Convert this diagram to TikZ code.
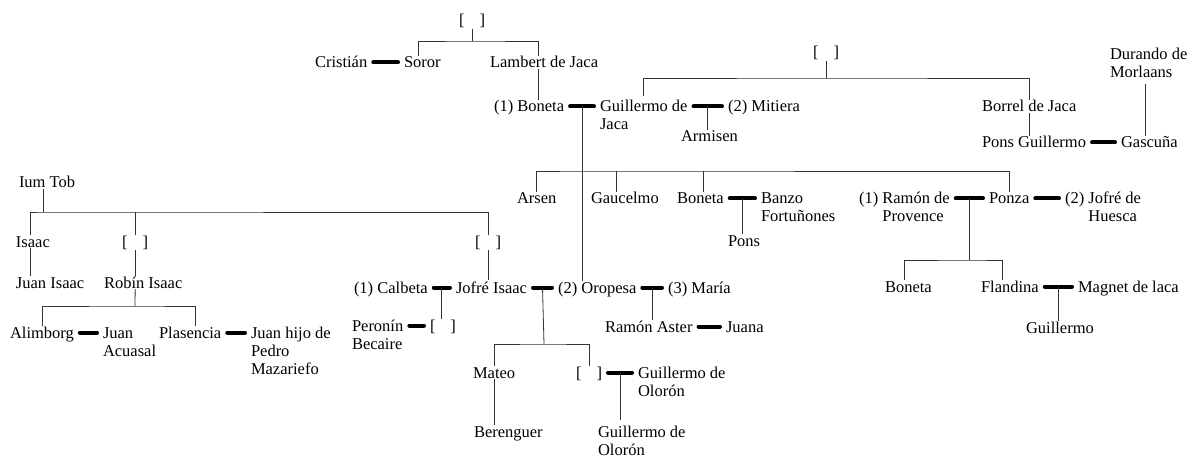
\documentclass[tikz,border=0pt]{standalone}
\usepackage{fontspec}
\setmainfont{Liberation Serif}
\usetikzlibrary{calc}

\newcommand{\unk}{[\hspace{15pt}]}
\newcommand{\stack}[1]{\begin{tabular}[t]{@{}l@{}}#1\end{tabular}}

\begin{document}
\begin{tikzpicture}[
          x=1pt, y=-1pt,
          person/.style = {inner sep=0pt, outer sep=1pt, anchor=base west, font=\fontsize{16.5}{18}\selectfont},
          unknown/.style = {person, anchor=base},
          line/.style = {draw=black!80, line width=0.8pt},
          bond/.style = {line width=4pt, line cap=round, shorten <=5pt, shorten >=5pt}
        ]
        \useasboundingbox (0,0) rectangle (1196,457);

        \node[unknown] (top1) at (472,26) {\unk};
        \node[person] (cristian) at (314,68) {Cristián};
        \node[person] (soror) at (403,68) {Soror};
        \node[person] (lambert) at (489,68) {Lambert de Jaca};
        \node[person] (boneta1) at (493,112) {(1) Boneta};
        \node[person] (guillermo) at (599,112) {\stack{Guillermo de\\Jaca}};
        \node[person] (mitiera) at (727,112) {(2) Mitiera};
        \node[person] (armisen) at (680,142) {Armisen};
        \node[unknown] (top2) at (826,58) {\unk};
        \node[person] (borrel) at (981,112) {Borrel de Jaca};
        \node[person] (ponsg) at (981,148) {Pons Guillermo};
        \node[person] (gascuna) at (1120,148) {Gascuña};
        \node[person] (durando) at (1109,60) {\stack{Durando de\\Morlaans}};

        \node[person] (arsen) at (516,204) {Arsen};
        \node[person] (gaucelmo) at (590,204) {Gaucelmo};
        \node[person] (boneta2) at (676,204) {Boneta};
        \node[person] (banzo) at (760,204) {\stack{Banzo\\Fortuñones}};
        \node[person] (pons) at (727,246) {Pons};
        \node[person] (ramon) at (858,204) {\stack{(1) Ramón de\\\phantom{(1) }Provence}};
        \node[person] (ponza) at (988,204) {Ponza};
        \node[person] (jofre) at (1064,204) {\stack{(2) Jofré de\\\phantom{(2) }Huesca}};
        \node[person] (boneta3) at (884,292) {Boneta};
        \node[person] (flandina) at (980,292) {Flandina};
        \node[person] (magnet) at (1077,292) {Magnet de laca};
        \node[person] (guillermo2) at (1025,333) {Guillermo};

        \node[person] (iumtob) at (18,188) {Ium Tob};
        \node[person] (isaac) at (15,247) {Isaac};
        \node[unknown] (top3) at (135,247) {\unk};
        \node[person] (juanisaac) at (15,288) {Juan Isaac};
        \node[person] (robin) at (103,288) {Robín Isaac};
        \node[person] (alimborg) at (9,338) {Alimborg};
        \node[person] (acuasal) at (102,338) {\stack{Juan\\Acuasal}};
        \node[person] (plasencia) at (158,338) {Plasencia};
        \node[person] (juanhijo) at (250,338) {\stack{Juan hijo de\\Pedro\\Mazariefo}};

        \node[unknown] (top4) at (488,247) {\unk};
        \node[person] (calbeta) at (353,293) {(1) Calbeta};
        \node[person] (jofreisaac) at (455,293) {Jofré Isaac};
        \node[person] (oropesa) at (557,293) {(2) Oropesa};
        \node[person] (maria) at (667,293) {(3) María};
        \node[person] (aster) at (604,332) {Ramón Aster};
        \node[person] (juana) at (725,332) {Juana};
        \node[person] (peronin) at (351,331) {\stack{Peronín\\Becaire}};
        \node[person] (unkp) at (429,331) {\unk};
        \node[person] (mateo) at (472,378) {Mateo};
        \node[unknown] (unkm) at (589,378) {\unk};
        \node[person] (olorona) at (637,378) {\stack{Guillermo de\\Olorón}};
        \node[person] (berenguer) at (473,437) {Berenguer};
        \node[person] (oloronb) at (597,437) {\stack{Guillermo de\\Olorón}};

        \coordinate (j1) at (473,41);
        \coordinate (j2) at (828,78);
        \coordinate (j3) at (583,171);
        \coordinate (j4) at (971,260);
        \coordinate (j5) at (43,212);
        \coordinate (j6) at (135,306);
        \coordinate (j7) at (544,344);

        \coordinate (m1) at ($(boneta1.base east)!.5!(guillermo.base west) + (0,-5.5)$);
        \coordinate (m2) at ($(guillermo.base east)!.5!(mitiera.base west) + (0,-5.5)$);
        \coordinate (m3) at ($(boneta2.base east)!.5!(banzo.base west) + (0,-5.5)$);
        \coordinate (m4) at ($(ramon.base east)!.5!(ponza.base west) + (0,-5.5)$);
        \coordinate (m5) at ($(flandina.base east)!.5!(magnet.base west) + (0,-5.5)$);
        \coordinate (m6) at ($(calbeta.base east)!.5!(jofreisaac.base west) + (0,-5.5)$);
        \coordinate (m7) at ($(jofreisaac.base east)!.5!(oropesa.base west) + (0,-5.5)$);
        \coordinate (m8) at ($(oropesa.base east)!.5!(maria.base west) + (0,-5.5)$);
        \coordinate (m9) at ($(unkm.base east)!.5!(olorona.base west) + (0,-5.5)$);

        \draw[bond] ([yshift=5.5pt]cristian.base east) -- ([yshift=5.5pt]soror.base west);
        \draw[bond] ([yshift=5.5pt]boneta1.base east) -- ([yshift=5.5pt]guillermo.base west);
        \draw[bond] ([yshift=5.5pt]guillermo.base east) -- ([yshift=5.5pt]mitiera.base west);
        \draw[bond] ([yshift=5.5pt]ponsg.base east) -- ([yshift=5.5pt]gascuna.base west);
        \draw[bond] ([yshift=5.5pt]boneta2.base east) -- ([yshift=5.5pt]banzo.base west);
        \draw[bond] ([yshift=5.5pt]ramon.base east) -- ([yshift=5.5pt]ponza.base west);
        \draw[bond] ([yshift=5.5pt]ponza.base east) -- ([yshift=5.5pt]jofre.base west);
        \draw[bond] ([yshift=5.5pt]flandina.base east) -- ([yshift=5.5pt]magnet.base west);
        \draw[bond] ([yshift=5.5pt]alimborg.base east) -- ([yshift=5.5pt]acuasal.base west);
        \draw[bond] ([yshift=5.5pt]plasencia.base east) -- ([yshift=5.5pt]juanhijo.base west);
        \draw[bond] ([yshift=5.5pt]calbeta.base east) -- ([yshift=5.5pt]jofreisaac.base west);
        \draw[bond] ([yshift=5.5pt]jofreisaac.base east) -- ([yshift=5.5pt]oropesa.base west);
        \draw[bond] ([yshift=5.5pt]oropesa.base east) -- ([yshift=5.5pt]maria.base west);
        \draw[bond] ([yshift=5.5pt]aster.base east) -- ([yshift=5.5pt]juana.base west);
        \draw[bond] ([yshift=5.5pt]peronin.base east) -- ([yshift=5.5pt]unkp.base west);
        \draw[bond] ([yshift=5.5pt]unkm.base east) -- ([yshift=5.5pt]olorona.base west);

        \draw[line] (top1.south) -- (top1.south |- j1);
        \draw[line] ([xshift=-4pt]soror.north) |- (j1) -| ([xshift=-6pt]lambert.north);
        \draw[line] ([xshift=-6pt]lambert.south) -- ([xshift=-6pt]lambert.south |- boneta1.north);
        \draw[line] (m1) -- (m1 |- oropesa.north);
        \draw[line] (top2.south) -- (top2.south |- j2);
        \draw[line] ([yshift=2pt]guillermo.north) |- (j2) -| (borrel.north);
        \draw[line] (m2) -- (m2 |- armisen.north);
        \draw[line] (borrel.south) -- (borrel.south |- ponsg.north);
        \draw[line] ([xshift=-3pt]durando.south) -- ([xshift=-3pt]durando.south |- gascuna.north);

        \draw[line] (arsen.north) |- (j3) -| (ponza.north);
        \draw[line] ([xshift=-9pt]gaucelmo.north) -- ([xshift=-9pt]gaucelmo.north |- j3);
        \draw[line] ([xshift=3pt]boneta2.north) -- ([xshift=3pt]boneta2.north |- j3);
        \draw[line] (m3) -- (m3 |- pons.north);
        \draw[line] (m4) -- (m4 |- j4);
        \draw[line] ([xshift=-4pt]boneta3.north) |- (j4) -| ([xshift=-7pt]flandina.north);
        \draw[line] (m5) -- (m5 |- guillermo2.north);

        \draw[line] ([xshift=-4pt]iumtob.south) -- ([xshift=-4pt]iumtob.south |- j5);
        \draw[line] ([xshift=-3pt]isaac.north) |- (j5) -| (top4.north);
        \draw[line] (top3.north) -- (top3.north |- j5);
        \draw[line] ([xshift=-3pt]isaac.south) -- ([xshift=-3pt]isaac.south |- juanisaac.north);
        \draw[line] (top3.south) -- (top3.south |- robin.north);
        \draw[line] ([xshift=-8pt]robin.south) -- (j6);
        \draw[line] (alimborg.north) |- (j6) -| ([xshift=5pt]plasencia.north);

        \draw[line] (top4.south) -- (top4.south |- jofreisaac.north);
        \draw[line] (m6) -- (m6 |- unkp.north);
        \draw[line] (m7) -- (j7);
        \draw[line] (mateo.north) |- (j7) -| (unkm.north);
        \draw[line] (m8) -- (m8 |- aster.north);
        \draw[line] (m9) -- ([yshift=3pt]m9 |- oloronb.north);
        \draw[line] (mateo.south) -- (mateo.south |- berenguer.north);
      \end{tikzpicture}
\end{document}
